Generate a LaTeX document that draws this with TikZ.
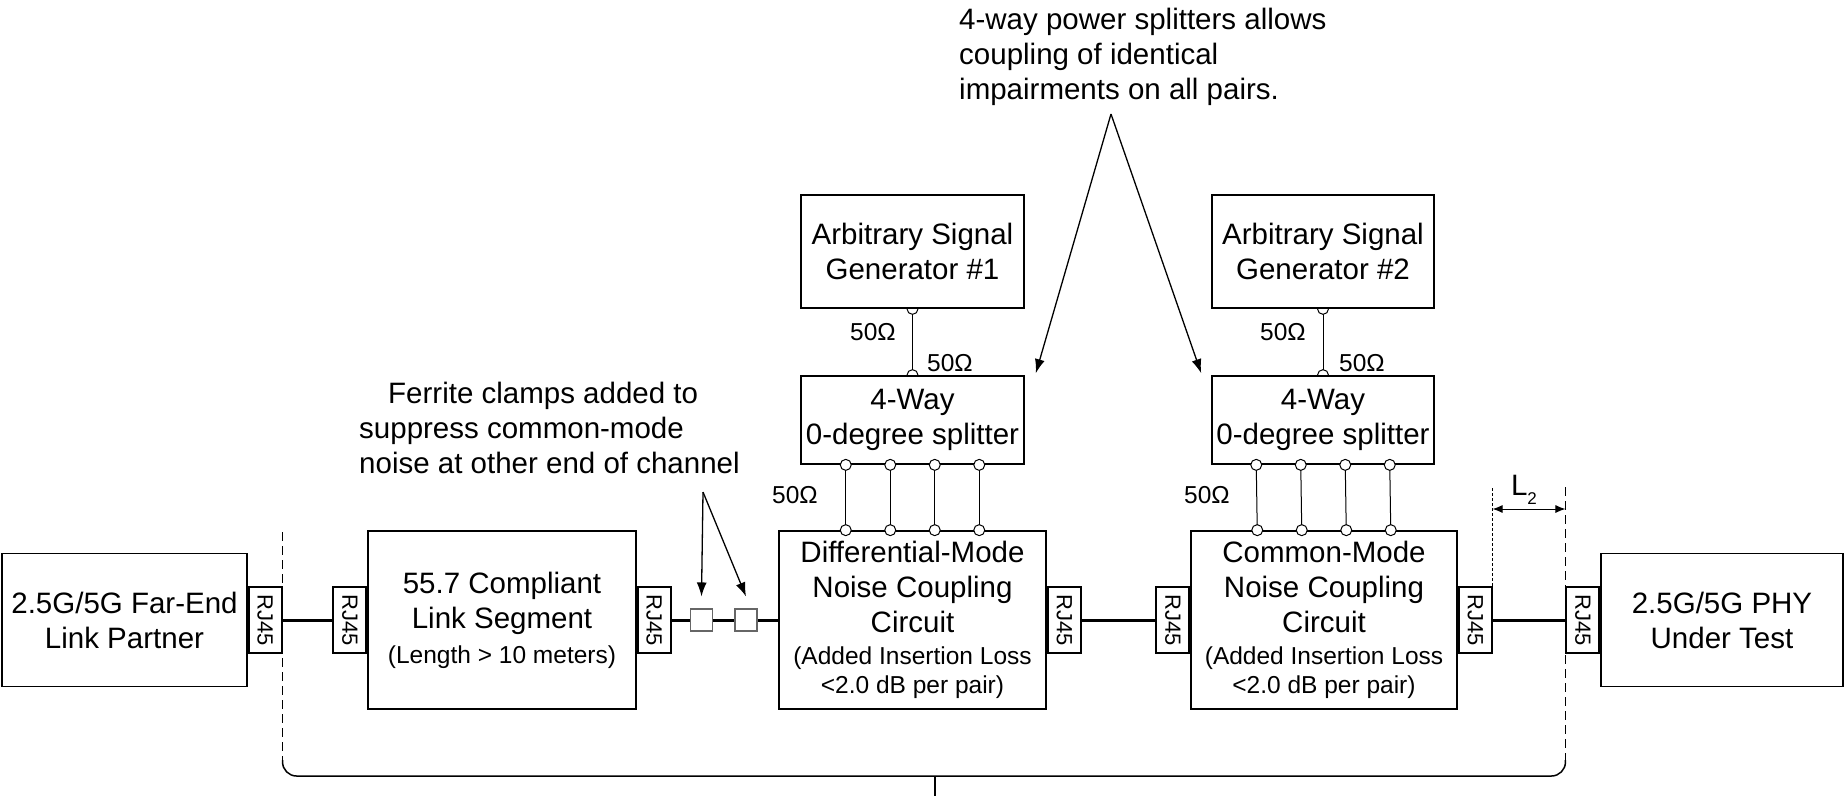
\documentclass[tikz,border=0pt]{standalone}
\usepackage{fontspec}
\setmainfont{Liberation Sans}
\usepackage{tikz}
\usepackage{xcolor}
\usepackage{graphicx}
\usetikzlibrary{arrows.meta,calc,backgrounds}
\newcommand*{\BigText}{\fontsize{29.5}{35}\selectfont}
\newcommand*{\SmallText}{\fontsize{24.5}{28.5}\selectfont}
\newcommand*{\PortText}{\fontsize{22}{22}\selectfont}

\begin{document}
\begin{tikzpicture}[x=1pt, y=-1pt,
    box/.style={draw, fill=white, line width=1.7pt, inner sep=0pt, align=center, font=\BigText},
    rj/.style={draw, fill=white, line width=1.7pt, inner sep=0pt, minimum width=33pt, minimum height=66pt, font=\PortText},
    clamp/.style={draw=black!60, fill=white, line width=1.1pt, inner sep=0pt, minimum size=22pt},
    cable/.style={line width=3pt},
    wire/.style={line width=1pt},
    port/.style={circle, draw, fill=white, line width=1pt, inner sep=0pt, minimum size=11pt},
    ohm/.style={font=\SmallText, inner sep=0pt},
    note/.style={font=\BigText, align=left, inner sep=0pt},
    bound/.style={line width=1.5pt, dash pattern=on 9pt off 5pt},
    pointer/.style={line width=1.3pt, -{Latex[length=14pt,width=10pt]}}]
    \useasboundingbox (0,0) rectangle (1845,796);

    \node[box, minimum width=245pt, minimum height=133pt] (farend) at (124.5,620) {2.5G/5G Far-End\\Link Partner};
    \node[rj, anchor=west] (rj1) at (farend.east) {\rotatebox{-90}{RJ45}};
    \node[box, minimum width=268pt, minimum height=178pt] (link) at (502,620) {55.7 Compliant\\Link Segment\\\SmallText (Length > 10 meters)};
    \node[rj, anchor=east] (rj2) at (link.west) {\rotatebox{-90}{RJ45}};
    \node[rj, anchor=west] (rj3) at (link.east) {\rotatebox{-90}{RJ45}};
    \node[clamp] (fa) at (701.5,620) {};
    \node[clamp] (fb) at (746,620) {};
    \node[box, minimum width=267pt, minimum height=178pt] (dm) at (912.5,620) {Differential-Mode\\Noise Coupling\\Circuit\\[-3pt]\SmallText (Added Insertion Loss\\[-6pt]\SmallText <2.0 dB per pair)};
    \node[rj, anchor=west] (rj4) at (dm.east) {\rotatebox{-90}{RJ45}};
    \node[box, minimum width=266pt, minimum height=178pt] (cm) at (1324,620) {Common-Mode\\Noise Coupling\\Circuit\\[-3pt]\SmallText (Added Insertion Loss\\[-6pt]\SmallText <2.0 dB per pair)};
    \node[rj, anchor=east] (rj5) at (cm.west) {\rotatebox{-90}{RJ45}};
    \node[rj, anchor=west] (rj6) at (cm.east) {\rotatebox{-90}{RJ45}};
    \node[box, minimum width=242pt, minimum height=133pt] (phy) at (1722,620) {2.5G/5G PHY\\Under Test};
    \node[rj, anchor=east] (rj7) at (phy.west) {\rotatebox{-90}{RJ45}};

    \node[box, minimum width=223pt, minimum height=113pt] (gen1) at (912.5,251.5) {Arbitrary Signal\\Generator \#1};
    \node[box, minimum width=223pt, minimum height=88pt] (split1) at (912.5,420) {4-Way\\0-degree splitter};
    \node[box, minimum width=222pt, minimum height=113pt] (gen2) at (1323,251.5) {Arbitrary Signal\\Generator \#2};
    \node[box, minimum width=222pt, minimum height=88pt] (split2) at (1323,420) {4-Way\\0-degree splitter};

    \draw[cable] (rj1) -- (rj2);
    \draw[cable] (rj3) -- (fa) -- (fb) -- (dm);
    \draw[cable] (rj4) -- (rj5);
    \draw[cable] (rj6) -- (rj7);
    \node[clamp] at (fa) {};
    \node[clamp] at (fb) {};

    \begin{pgfonlayer}{background}
        \draw[wire] (gen1.south) node[port] {} -- (split1.north) node[port] {};
        \draw[wire] (gen2.south) node[port] {} -- (split2.north) node[port] {};
    \end{pgfonlayer}
    \foreach \s/\c in {split1/dm, split2/cm}
        \foreach \k in {1,...,4}
            \draw[wire] ($(\s.south)+({(\k-2.5)*44.5},0)$) node[port] {} -- ($(\c.north)+({(\k-2.5)*44.5},0)$) node[port] {};

    \node[ohm] at (873,332) {50Ω};
    \node[ohm] at (950,363) {50Ω};
    \node[ohm] at (795,495) {50Ω};
    \node[ohm] at (1283,332) {50Ω};
    \node[ohm] at (1362,363) {50Ω};
    \node[ohm] at (1207,495) {50Ω};

    \node[note, anchor=north west] (splitnote) at (959,8) {4-way power splitters allows\\coupling of identical\\impairments on all pairs.};
    \coordinate (splitapex) at (1111,114);
    \draw[pointer] (splitapex) -- ([xshift=11pt, yshift=2pt]split1.north east);
    \draw[pointer] (splitapex) -- ([xshift=-10pt, yshift=2pt]split2.north west);

    \node[note, anchor=north west] (clampnote) at (359,382) {\hspace*{29pt}Ferrite clamps added to\\suppress common-mode\\noise at other end of channel};
    \coordinate (clampapex) at (703,492);
    \draw[pointer] (clampapex) -- ([yshift=12pt]fa.north);
    \draw[pointer] (clampapex) -- ([yshift=12pt]fb.north);

    \draw[bound] (rj1.east |- 0,532) -- (rj1.east |- 0,760);
    \draw[bound] (rj7.west |- 0,487) -- (rj7.west |- 0,760);
    \draw[line width=1pt, dash pattern=on 3pt off 2pt] (rj6.north east) -- (rj6.east |- 0,487);
    \draw[line width=1.5pt, rounded corners=14pt] (rj1.east |- 0,760) -- (rj1.east |- 0,776) -- (rj7.west |- 0,776) -- (rj7.west |- 0,760);
    \draw[line width=1.5pt] (935,776) -- (935,796);

    \draw[wire, {Latex[length=10pt,width=8pt]}-{Latex[length=10pt,width=8pt]}] (rj6.east |- 0,509) -- (rj7.west |- 0,509);
    \node[font=\BigText, inner sep=0pt] (ltwo) at (1524,490) {L{\fontsize{17}{17}\selectfont\raisebox{-9pt}{2}}};
\end{tikzpicture}
\end{document}
